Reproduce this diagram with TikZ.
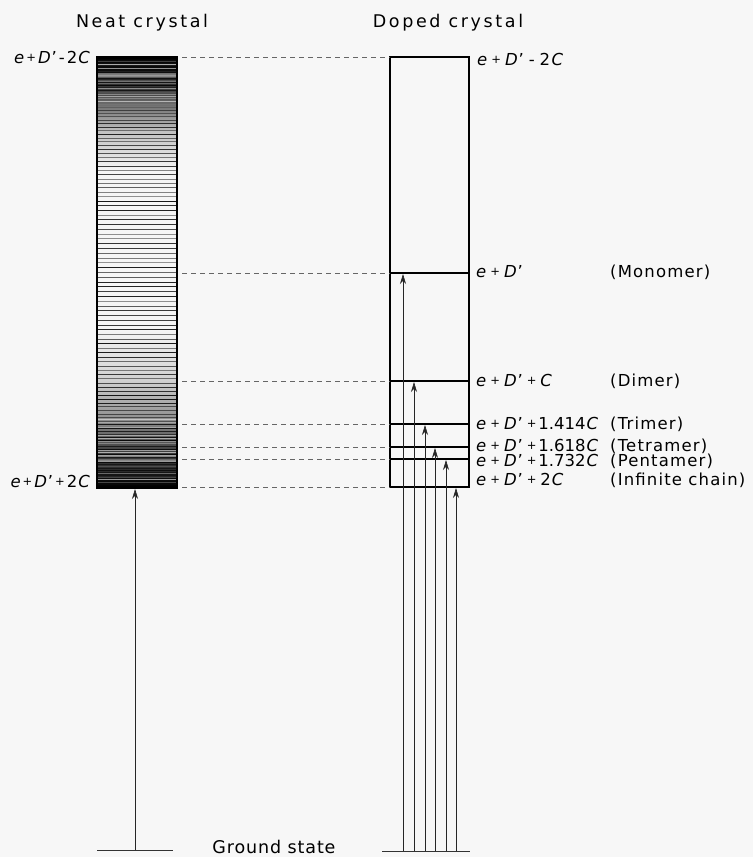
\documentclass[tikz,border=0pt]{standalone}
\usepackage{fontspec}
\setmainfont{DejaVu Sans}
\newfontfamily\titlefont[LetterSpace=15]{DejaVu Sans}
\newfontfamily\groundfont[LetterSpace=5]{DejaVu Sans}
\newfontfamily\parenfont[LetterSpace=7]{DejaVu Sans}
\usetikzlibrary{arrows.meta}

\newcommand\Ei{\textit{e}}
\newcommand\Dp{\textit{D}\kern0.8pt{\char"27}}
\newcommand\Pl{\raisebox{0.07em}{\scalebox{0.7}{+}}}
\newcommand\Cc{\textit{C}}

\tikzset{
  lbl/.style={font=\fontsize{16.5}{19}\selectfont, inner sep=0pt},
  parlbl/.style={font=\fontsize{16.5}{19}\selectfont\parenfont, inner sep=0pt},
  ttl/.style={font=\fontsize{17.5}{20}\selectfont\titlefont, inner sep=0pt},
  gnd/.style={font=\fontsize{17.5}{20}\selectfont\groundfont, inner sep=0pt},
  guide/.style={draw=black!60, line width=0.7pt, dash pattern=on 5pt off 4pt},
  groundline/.style={draw=black!80, line width=0.8pt},
  boxline/.style={draw=black, line width=1.7pt},
  arr/.style={draw=black!85, line width=0.6pt, -{Stealth[length=10pt,width=6pt]}},
}

\begin{document}
\begin{tikzpicture}[x=1pt,y=-1pt]
\useasboundingbox (0,0) rectangle (753,857);
\fill[black!3] (0,0) rectangle (753,857);

% titles
\node[ttl, anchor=base] (tNeat) at (142,27) {Neat crystal};
\node[ttl, anchor=base] (tDoped) at (448,27) {Doped crystal};

% ---- neat crystal band ----
\coordinate (nbTL) at (97,57);
\coordinate (nbBR) at (177,488);
\foreach \ya/\yb/\ca/\cb in {57/80/92/85, 80/100/85/62, 100/130/62/25, 130/170/25/4,
   170/330/4/4, 330/380/4/18, 380/420/18/45, 420/450/45/75, 450/488/75/90}{
  \shade[top color=black!\ca, bottom color=black!\cb] (97,\ya) rectangle (177,\yb+0.4);
}
\begin{scope}
  \clip (nbTL) rectangle (nbBR);
  \pgfmathsetseed{7}
  \foreach \k in {0,...,140}{
    \pgfmathsetmacro\yy{272.5+215.5*cos(1.285714*\k)}
    \pgfmathsetmacro\op{0.4+0.5*rnd}
    \draw[black, opacity=\op, line width=1pt] (97,\yy) -- (177,\yy);
  }
  \foreach \k in {1,...,22}{
    \pgfmathsetmacro\yy{60+rnd*50}
    \pgfmathsetmacro\op{0.2+0.35*rnd}
    \draw[white, opacity=\op, line width=0.7pt] (97,\yy) -- (177,\yy);
    \pgfmathsetmacro\yb{485-rnd*75}
    \draw[white, opacity=\op, line width=0.7pt] (97,\yb) -- (177,\yb);
  }
\end{scope}
\draw[black, line width=1.4pt] (nbTL) rectangle (nbBR);

\node[lbl, anchor=base east] (nTopL) at (90,63) {\Ei\kern2pt\Pl\kern2pt\Dp\kern2pt-\kern2pt2\kern1pt\Cc};
\node[lbl, anchor=base east] (nBotL) at (90,487) {\Ei\kern2pt\Pl\kern2pt\Dp\kern2pt\Pl\kern2pt2\kern1pt\Cc};

% ---- doped crystal box ----
\coordinate (dTL) at (390,57);
\coordinate (dBR) at (469,487);
\draw[boxline] (dTL) rectangle (dBR);
\foreach \nm/\yy in {mono/273, dim/381, tri/424, tet/447, pen/459}{
  \coordinate (L\nm) at (390,\yy);
  \coordinate (R\nm) at (469,\yy);
  \draw[boxline] (L\nm) -- (R\nm);
}
\coordinate (Ltop) at (390,57);
\coordinate (Lbot) at (390,487);

% guides from band to box
\foreach \nm/\yy in {top/57, mono/273, dim/381, tri/424, tet/447, pen/459, bot/487}{
  \coordinate (N\nm) at (182,\yy);
  \draw[guide] (N\nm) -- (L\nm);
}

% level labels
\node[lbl, anchor=base west] (eTop) at (477,65) {\Ei\kern4pt\Pl\kern4pt\Dp\kern5pt-\kern5pt2\kern1.5pt\Cc};
\node[lbl, anchor=base west] (eMono) at (476,277) {\Ei\kern4pt\Pl\kern4pt\Dp};
\node[lbl, anchor=base west] (eDim) at (476,386) {\Ei\kern4pt\Pl\kern4pt\Dp\kern4pt\Pl\kern4pt\Cc};
\node[lbl, anchor=base west] (eTri) at (476,429) {\Ei\kern4pt\Pl\kern4pt\Dp\kern4pt\Pl\kern2pt1.414\kern1pt\Cc};
\node[lbl, anchor=base west] (eTet) at (476,451) {\Ei\kern4pt\Pl\kern4pt\Dp\kern4pt\Pl\kern2pt1.618\kern1pt\Cc};
\node[lbl, anchor=base west] (ePen) at (476,466) {\Ei\kern4pt\Pl\kern4pt\Dp\kern4pt\Pl\kern2pt1.732\kern1pt\Cc};
\node[lbl, anchor=base west] (eBot) at (476,485) {\Ei\kern4pt\Pl\kern4pt\Dp\kern4pt\Pl\kern4pt2\kern1pt\Cc};

\node[parlbl, anchor=base west] (pMono) at (610,277) {(Monomer)};
\node[parlbl, anchor=base west] (pDim) at (610,386) {(Dimer)};
\node[parlbl, anchor=base west] (pTri) at (610,429) {(Trimer)};
\node[parlbl, anchor=base west] (pTet) at (610,451) {(Tetramer)};
\node[parlbl, anchor=base west] (pPen) at (610,466) {(Pentamer)};
\node[parlbl, anchor=base west] (pBot) at (610,485) {(Infinite chain)};

% ---- ground state ----
\coordinate (gL1) at (97,850);
\coordinate (gL2) at (173,850);
\coordinate (gR1) at (382,851);
\coordinate (gR2) at (470,851);
\draw[groundline] (gL1) -- (gL2);
\draw[groundline] (gR1) -- (gR2);
\node[gnd, anchor=base] (gText) at (274,853) {Ground state};

% arrows
\coordinate (aS) at (135,850);
\coordinate (aT) at (135,489);
\draw[arr] (aS) -- (aT);
\foreach \xx/\yy [count=\i] in {403/274, 414/382, 425/425, 435/448, 446/460, 456/488}{
  \coordinate (s\i) at (\xx,851);
  \coordinate (t\i) at (\xx,\yy);
  \draw[arr] (s\i) -- (t\i);
}
\end{tikzpicture}
\end{document}
